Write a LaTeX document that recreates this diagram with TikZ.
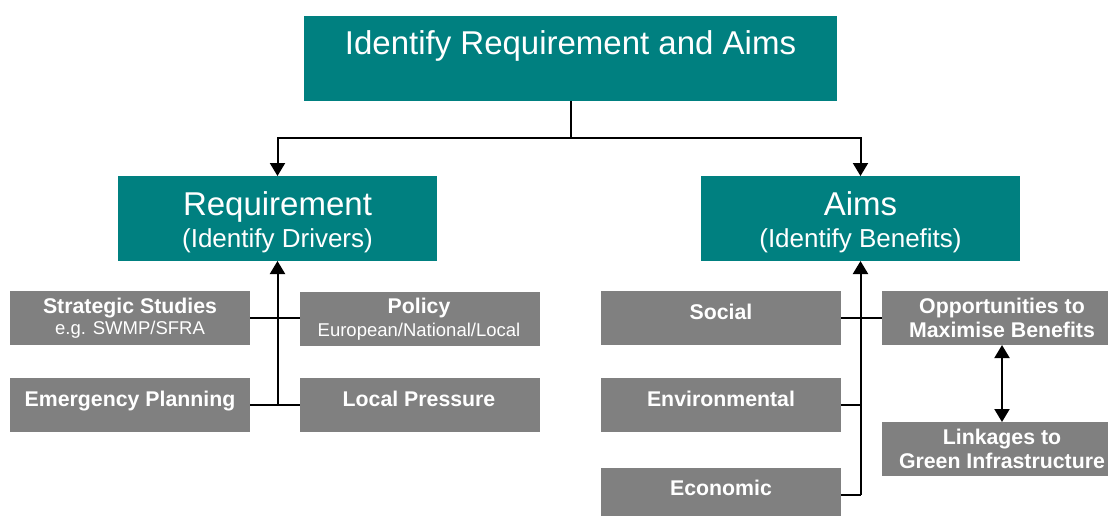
\documentclass[tikz,border=0pt]{standalone}
\usepackage{fontspec}
\setmainfont{Liberation Sans}
\usetikzlibrary{arrows.meta}
\definecolor{tealc}{RGB}{0,128,128}
\definecolor{grayc}{RGB}{128,128,128}
\tikzset{
  tealbox/.style={fill=tealc, draw=none, inner sep=0pt, outer sep=0pt},
  graybox/.style={fill=grayc, draw=none, inner sep=0pt, outer sep=0pt, minimum width=240pt, minimum height=54pt},
  txt/.style={anchor=base, text=white, inner sep=0pt},
  bigt/.style={txt, font=\fontsize{33}{36}\selectfont},
  subt/.style={txt, font=\fontsize{26}{30}\selectfont},
  boldt/.style={txt, font=\fontsize{21.3}{24}\selectfont\bfseries},
  smallt/.style={txt, font=\fontsize{18.5}{22}\selectfont},
  conn/.style={draw=black, line width=2pt},
  arr/.style={conn, -{Triangle[length=13pt,width=15pt]}},
  darr/.style={conn, {Triangle[length=13pt,width=15pt]}-{Triangle[length=13pt,width=15pt]}}
}
\begin{document}
\begin{tikzpicture}[x=1pt, y=-1pt]
\useasboundingbox (0,0) rectangle (1108,515);
\clip (0,0) rectangle (1108,515);
\fill[white] (0,0) rectangle (1108,515);
% teal boxes
\node[tealbox, minimum width=533pt, minimum height=85pt] (top) at (570.5,58.5) {};
\node[tealbox, minimum width=319pt, minimum height=85pt] (req) at (277.5,218.5) {};
\node[tealbox, minimum width=319pt, minimum height=85pt] (aims) at (860.5,218.5) {};
\node[bigt] (topT) at (570.5,54) {Identify Requirement and Aims};
\node[bigt] (reqT) at (277.5,215) {Requirement};
\node[subt] (reqS) at (277.5,247) {(Identify Drivers)};
\node[bigt] (aimsT) at (860.5,215) {Aims};
\node[subt] (aimsS) at (860.5,247) {(Identify Benefits)};
% gray boxes left
\node[graybox] (strat) at (130,318) {};
\node[graybox] (policy) at (420,318.5) {};
\node[graybox] (emerg) at (130,405) {};
\node[graybox] (local) at (420,405) {};
\node[boldt] (stratT) at (130,313.5) {Strategic Studies};
\node[smallt] (stratS) at (130,334.5) {e.g. SWMP/SFRA};
\node[boldt] (policyT) at (419,313.5) {Policy};
\node[smallt] (policyS) at (419,336.5) {European/National/Local};
\node[boldt] (emergT) at (130,406.5) {Emergency Planning};
\node[boldt] (localT) at (419,406.5) {Local Pressure};
% gray boxes right
\node[graybox] (social) at (721,318) {};
\node[graybox] (env) at (721,405) {};
\node[graybox] (econ) at (721,495) {};
\node[graybox] (opp) at (1002,318) {};
\node[graybox] (link) at (1002,449) {};
\node[boldt] (socialT) at (721,319.5) {Social};
\node[boldt] (envT) at (721,406.5) {Environmental};
\node[boldt] (econT) at (721,495.5) {Economic};
\node[boldt] (oppT1) at (1002,313.5) {Opportunities to};
\node[boldt] (oppT2) at (1002,337.5) {Maximise Benefits};
\node[boldt] (linkT1) at (1002,444.5) {Linkages to};
\node[boldt] (linkT2) at (1002,468.5) {Green Infrastructure};
% connectors
\coordinate (jt) at (570.5,138);
\draw[conn] (top.south) -- (jt);
\draw[arr] (jt) -| (req.north);
\draw[arr] (jt) -| (aims.north);
\coordinate (lb) at (277.5,405);
\draw[arr] (lb) -- (req.south);
\draw[conn] (strat.east) -- (policy.west |- strat.east);
\draw[conn] (emerg.east) -- (local.west);
\coordinate (rb) at (860.5,495);
\draw[arr] (rb) -- (aims.south);
\draw[conn] (social.east) -- (opp.west);
\draw[conn] (env.east) -- (env.east -| rb);
\draw[conn] (econ.east) -- (rb);
\draw[darr] (opp.south) -- (link.north);
\end{tikzpicture}
\end{document}
